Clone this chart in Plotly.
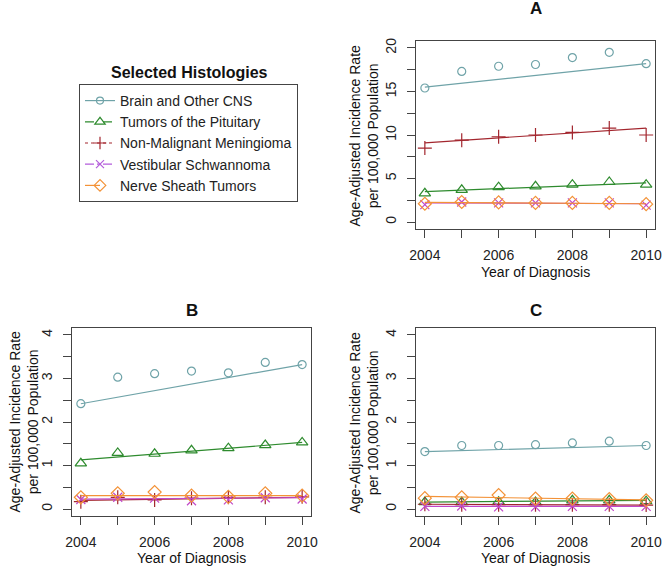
import plotly.graph_objects as go

W, H = 662, 567

years = [2004, 2005, 2006, 2007, 2008, 2009, 2010]
fit_years = [2004, 2010]

series_names = ["Brain and Other CNS", "Tumors of the Pituitary", "Non-Malignant Meningioma",
                "Vestibular Schwannoma", "Nerve Sheath Tumors"]
colors = ["#6FA3A8", "#2E8B2E", "#A3262E", "#C048C8", "#F39237"]
legend_colors = ["#6FA3A8", "#2E8B2E", "#A3262E", "#B45CDB", "#F39237"]
symbols = ["circle-open", "triangle-up-open", "cross-thin-open", "x-thin-open", "diamond-open"]
msizes = [8, 10, 10, 9, 10]
dashes = ["solid", "dash", "dot", "dashdot", "longdash"]

# Panel A
a_brain = [15.4, 17.3, 17.9, 18.1, 18.9, 19.5, 18.2]
a_pit = [3.3, 3.7, 4.0, 4.1, 4.3, 4.6, 4.3]
a_men = [8.5, 9.4, 9.8, 10.0, 10.3, 10.8, 10.0]
a_ves = [2.0, 2.3, 2.2, 2.2, 2.2, 2.2, 1.95]
a_nst = [2.1, 2.3, 2.25, 2.2, 2.2, 2.2, 2.05]
a_fit = [[15.5, 18.2], [3.5, 4.5], [9.1, 10.8], [2.2, 2.1], [2.25, 2.1]]

# Panel B
b_brain = [2.42, 3.03, 3.11, 3.17, 3.13, 3.37, 3.32]
b_pit = [1.05, 1.29, 1.27, 1.35, 1.40, 1.47, 1.53]
b_men = [0.17, 0.27, 0.21, 0.25, 0.27, 0.27, 0.28]
b_ves = [0.22, 0.27, 0.25, 0.19, 0.21, 0.26, 0.23]
b_nst = [0.27, 0.36, 0.39, 0.31, 0.28, 0.36, 0.31]
b_fit = [[2.42, 3.32], [1.13, 1.53], [0.20, 0.27], [0.23, 0.26], [0.31, 0.31]]

# Panel C
c_brain = [1.32, 1.46, 1.46, 1.48, 1.52, 1.56, 1.46]
c_pit = [0.16, 0.16, 0.17, 0.16, 0.20, 0.20, 0.18]
c_men = [0.11, 0.10, 0.10, 0.10, 0.10, 0.10, 0.09]
c_ves = [0.06, 0.07, 0.05, 0.05, 0.06, 0.06, 0.06]
c_nst = [0.25, 0.27, 0.32, 0.24, 0.24, 0.23, 0.20]
c_fit = [[1.32, 1.46], [0.16, 0.20], [0.11, 0.09], [0.06, 0.06], [0.29, 0.21]]

panels = [
    ("x", "y", [a_brain, a_pit, a_men, a_ves, a_nst], a_fit),
    ("x2", "y2", [b_brain, b_pit, b_men, b_ves, b_nst], b_fit),
    ("x3", "y3", [c_brain, c_pit, c_men, c_ves, c_nst], c_fit),
]

FONT = "Liberation Sans, Arial, sans-serif"

fig = go.Figure()
for xa, ya, vals, fits in panels:
    for i in range(5):
        fig.add_trace(go.Scatter(x=fit_years, y=fits[i], mode="lines", xaxis=xa, yaxis=ya,
                                 line=dict(color=colors[i], width=1.2), showlegend=False,
                                 hoverinfo="skip"))
        fig.add_trace(go.Scatter(x=years, y=vals[i], mode="markers", xaxis=xa, yaxis=ya,
                                 marker=dict(symbol=symbols[i], size=msizes[i], color=colors[i],
                                             line=dict(color=colors[i], width=1.2)),
                                 showlegend=False, name=series_names[i]))

# legend proxies
for i in range(5):
    fig.add_trace(go.Scatter(x=[None], y=[None], mode="lines+markers", name=series_names[i],
                             xaxis="x", yaxis="y",
                             line=dict(color=legend_colors[i], width=1.2, dash=dashes[i]),
                             marker=dict(symbol=symbols[i], size=msizes[i] - 1, color=legend_colors[i],
                                         line=dict(color=legend_colors[i], width=1.2)),
                             showlegend=True))

def px_x(p):
    return p / W

def px_y(p):
    return 1 - p / H

axis_common = dict(showline=True, mirror=True, linecolor="#444", linewidth=1,
                   ticks="outside", ticklen=8, tickcolor="#444", showgrid=False, zeroline=False,
                   automargin=False,
                   tickfont=dict(family=FONT, size=14, color="#222"))

xdomA = [px_x(416), px_x(655)]
xdomB = [px_x(72), px_x(311)]
ydomA = [px_y(229), px_y(41)]
ydomB = [px_y(516), px_y(328)]

xcommon = dict(range=[2003.76, 2010.24], tick0=2004, dtick=2, ticklabelstandoff=5,
               minor=dict(tick0=2004, dtick=1, ticks="outside", ticklen=8, tickcolor="#444"),
               **axis_common)
ycommon = dict(tickangle=-90, ticklabelstandoff=5, **axis_common)

fig.update_layout(
    template="none",
    width=W, height=H, margin=dict(l=0, r=0, t=0, b=0, autoexpand=False),
    plot_bgcolor="white", paper_bgcolor="white",
    font=dict(family=FONT, size=14, color="#222"),
    xaxis=dict(domain=xdomA, anchor="y", **xcommon),
    yaxis=dict(domain=ydomA, anchor="x", range=[-0.8, 20.8], tick0=0, dtick=5,
               minor=dict(tick0=0, dtick=2.5, ticks="outside", ticklen=8, tickcolor="#444"),
               **ycommon),
    xaxis2=dict(domain=xdomB, anchor="y2", **xcommon),
    yaxis2=dict(domain=ydomB, anchor="x2", range=[-0.16, 4.16], tick0=0, dtick=1,
                minor=dict(tick0=0, dtick=0.5, ticks="outside", ticklen=8, tickcolor="#444"),
                **ycommon),
    xaxis3=dict(domain=xdomA, anchor="y3", **xcommon),
    yaxis3=dict(domain=ydomB, anchor="x3", range=[-0.16, 4.16], tick0=0, dtick=1,
                minor=dict(tick0=0, dtick=0.5, ticks="outside", ticklen=8, tickcolor="#444"),
                **ycommon),
    legend=dict(x=px_x(79), y=px_y(84), xanchor="left", yanchor="top",
                bordercolor="#444", borderwidth=1, bgcolor="white",
                font=dict(family=FONT, size=14, color="#222"), itemwidth=30,
                tracegroupgap=0),
)

ann = []
def add_text(text, xp, yp, size=14, bold=False, angle=0):
    ann.append(dict(text=f"<b>{text}</b>" if bold else text, x=px_x(xp), y=px_y(yp),
                    xref="paper", yref="paper", showarrow=False, textangle=angle,
                    xanchor="center", yanchor="middle",
                    font=dict(family=FONT, size=size, color="#111")))

add_text("A", 535.5, 9, size=17, bold=True)
add_text("B", 191.5, 310, size=17, bold=True)
add_text("C", 535.5, 310, size=17, bold=True)
add_text("Selected Histologies", 189, 73, size=16, bold=True)
ytitle = "Age-Adjusted Incidence Rate<br>per 100,000 Population"
add_text(ytitle, 363.5, 135, angle=-90)
add_text(ytitle, 23.5, 422, angle=-90)
add_text(ytitle, 363.5, 422, angle=-90)
add_text("Year of Diagnosis", 535.5, 272)
add_text("Year of Diagnosis", 191.5, 558)
add_text("Year of Diagnosis", 535.5, 558)
fig.update_layout(annotations=ann)

fig.write_html("out.html", config={"displayModeBar": False},
               post_script="document.body.style.margin='0px';document.body.style.overflow='hidden';")
